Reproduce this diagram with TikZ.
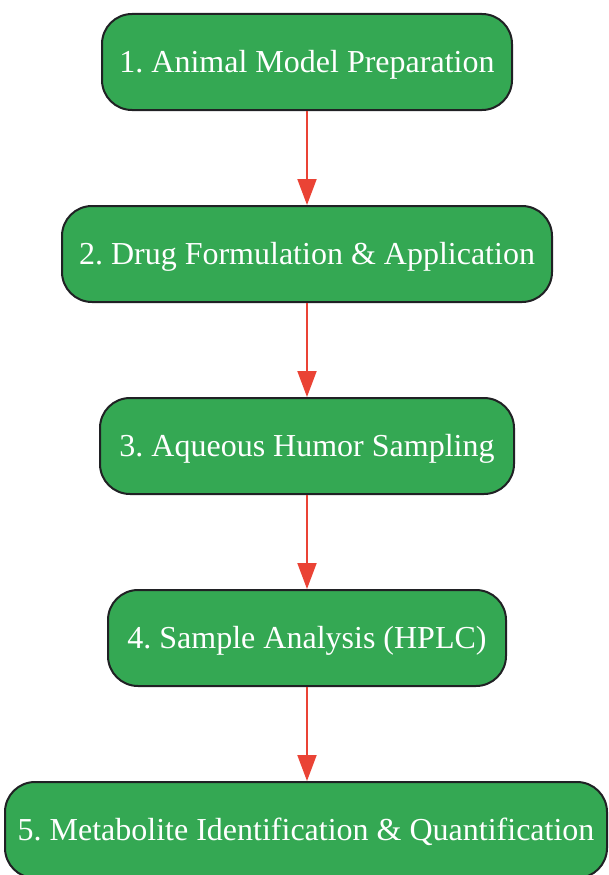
\documentclass[tikz,border=0pt]{standalone}
\usepackage{fontspec}
\setmainfont{Liberation Serif}
\frenchspacing
\usetikzlibrary{arrows.meta}
\definecolor{stepgreen}{HTML}{34A853}
\definecolor{steparrow}{HTML}{EA4335}
\definecolor{stepline}{HTML}{202124}
\tikzset{
  stepbox/.style={draw=stepline, line width=2pt, fill=stepgreen, text=white,
    rounded corners=30pt, minimum height=96pt, inner sep=0pt,
    text height=24pt, text depth=3pt,
    font=\fontsize{32pt}{36pt}\selectfont},
  steplink/.style={draw=steparrow, line width=2pt,
    -{Triangle[length=26pt, width=19pt]}}
}
\begin{document}
\begin{tikzpicture}[x=1pt, y=-1pt]
\useasboundingbox (0,0) rectangle (608,875);
\node[stepbox, minimum width=410pt] (prep) at (307,62) {1. Animal Model Preparation};
\node[stepbox, minimum width=490pt] (drug) at (307,254) {2. Drug Formulation \& Application};
\node[stepbox, minimum width=414pt] (samp) at (307,446) {3. Aqueous Humor Sampling};
\node[stepbox, minimum width=398pt] (hplc) at (307,638) {4. Sample Analysis (HPLC)};
\node[stepbox, minimum width=602pt] (meta) at (306,830) {5. Metabolite Identification \& Quantification};
\draw[steplink] (prep) -- (drug);
\draw[steplink] (drug) -- (samp);
\draw[steplink] (samp) -- (hplc);
\draw[steplink] (hplc) -- (hplc |- meta.north);
\end{tikzpicture}
\end{document}
